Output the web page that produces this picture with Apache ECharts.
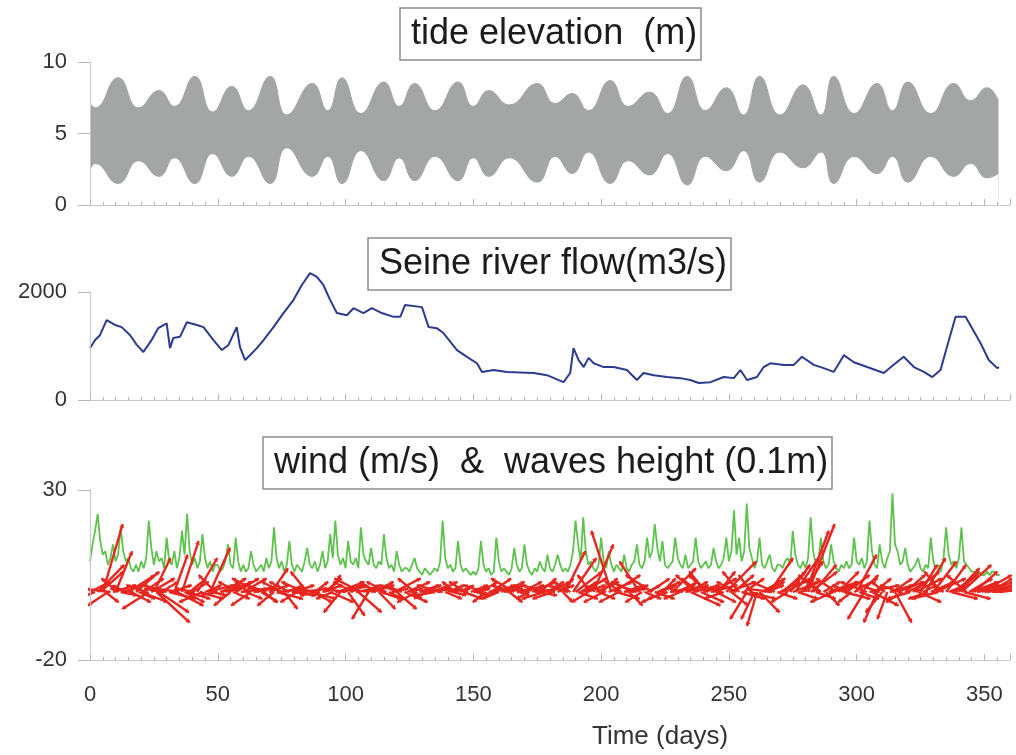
<!DOCTYPE html>
<html>
<head>
<meta charset="utf-8">
<script src="https://cdn.jsdelivr.net/npm/echarts@6/dist/echarts.min.js"></script>
<style>
  html, body { margin: 0; padding: 0; background: #fff; }
  #chart { width: 1016px; height: 755px; }
</style>
</head>
<body>
<div id="chart"></div>
<script>
// tide envelope: spring / neap extremes (m)
const tideDays = [0, 2, 11, 19, 27, 33, 41, 48, 55.5, 62, 70.5, 77, 87, 93, 98.6, 106, 115, 121, 127, 135, 144, 150, 156, 164,
  175, 182, 188.7, 195, 203.6, 210.6, 219, 226, 233.7, 240.8, 249, 255.7, 262, 270, 279, 286, 291, 299, 308, 314, 320, 329, 338, 344.6, 351, 355.5]
const tideHigh = [7.1, 6.8, 8.9, 6.8, 8.0, 6.9, 9.0, 6.5, 8.3, 6.6, 9.0, 6.3, 8.5, 6.6, 8.9, 6.4, 8.6, 6.9, 8.5, 6.6, 8.6, 6.9, 8.0, 7.0,
  8.5, 7.1, 7.8, 6.6, 8.7, 6.9, 7.9, 6.4, 9.0, 6.6, 8.2, 6.3, 9.0, 6.3, 8.4, 6.3, 9.0, 6.4, 8.5, 6.6, 8.6, 6.4, 8.5, 7.3, 8.2, 7.3]
const tideLow = [2.45, 2.9, 1.5, 3.1, 2.0, 3.3, 1.5, 3.6, 2.0, 3.4, 1.5, 4.0, 2.0, 3.4, 1.5, 3.8, 1.7, 3.3, 1.7, 3.4, 1.7, 3.3, 2.0, 3.3,
  1.6, 3.4, 2.2, 3.7, 1.5, 3.1, 2.1, 3.6, 1.4, 3.4, 2.4, 3.8, 1.6, 3.7, 2.6, 3.7, 1.5, 3.4, 2.2, 3.4, 1.6, 3.4, 2.0, 2.9, 1.9, 2.2]

// Seine river flow (m3/s)
const riverDays = [0, 2, 3.9, 6.5, 9.8, 12.4, 15.7, 18.3, 20.9, 24.1, 26.7, 30, 31.3, 32.6, 35.2, 37.9, 41.8, 44.4, 48.3, 51.6,
  54.2, 57.4, 58.7, 60.7, 62.6, 65.3, 67.9, 71.8, 75.7, 79.6, 82.9, 86.1, 88.8, 91.3, 94, 96.6, 100.5, 103.1, 107, 110.3,
  114.2, 118.8, 121.4, 123.3, 129.9, 132.5, 135.7, 138.3, 143.6, 147.5, 151.4, 153.4, 157.9, 163.1, 173.6, 178.8, 185.3, 187.9, 189.2, 191.2,
  193.2, 195.1, 197.1, 201, 204.9, 210.1, 214, 216.6, 220.6, 225.8, 231, 234.9, 238.2, 242.8, 248, 251.9, 254.5, 257.1, 261, 263.6,
  266.2, 271.5, 275.4, 278.6, 283.2, 287.1, 291, 295, 298.9, 304.1, 310.6, 315.2, 318.4, 322.4, 326.3, 329.6, 332.8, 336.1, 338.7, 342.6,
  348.5, 351.7, 355, 355.7]
const riverFlow = [960, 1110, 1200, 1480, 1390, 1350, 1200, 1020, 890, 1110, 1330, 1420, 960, 1150, 1170, 1440, 1390, 1350, 1110, 925,
  1020, 1350, 980, 740, 830, 960, 1110, 1350, 1610, 1850, 2130, 2350, 2280, 2130, 1850, 1610, 1570, 1700, 1610, 1700,
  1610, 1540, 1540, 1760, 1720, 1350, 1330, 1240, 925, 800, 680, 520, 555, 520, 500, 460, 330, 500, 960, 740,
  610, 780, 680, 610, 610, 555, 370, 500, 460, 425, 405, 370, 315, 330, 425, 405, 555, 370, 425, 610,
  680, 650, 650, 800, 650, 590, 520, 830, 700, 610, 500, 680, 800, 610, 520, 425, 555, 1110, 1540, 1540,
  1050, 740, 590, 610]

// waves height (0.1 m), one value per day from day 0
const waveHeight = [
  9, 14, 18, 23, 15, 11, 12, 8, 10, 14,
  9, 11, 19, 12, 9, 10, 7, 6, 8, 6,
  9, 7, 10, 21, 13, 8, 12, 9, 10, 7,
  16, 9, 8, 12, 7, 10, 18, 11, 23, 12,
  8, 10, 7, 9, 17, 10, 7, 9, 6, 8,
  8, 6, 7, 9, 14, 8, 7, 16, 9, 6,
  8, 6, 7, 12, 8, 6, 7, 8, 6, 10,
  7, 9, 19, 10, 7, 9, 6, 8, 15, 8,
  6, 8, 7, 6, 9, 13, 8, 7, 9, 6,
  8, 12, 7, 9, 17, 10, 21, 11, 8, 10,
  7, 15, 9, 8, 10, 7, 19, 11, 9, 8,
  13, 8, 7, 9, 8, 17, 10, 7, 8, 6,
  12, 8, 6, 7, 7, 6, 8, 10, 7, 6,
  5, 7, 6, 5, 6, 7, 6, 9, 21, 10,
  7, 8, 6, 7, 15, 8, 6, 7, 6, 5,
  6, 5, 7, 15, 8, 6, 7, 5, 6, 16,
  9, 6, 7, 6, 5, 7, 13, 8, 6, 7,
  14, 8, 6, 5, 7, 6, 9, 7, 6, 11,
  7, 6, 8, 11, 8, 6, 7, 6, 8, 12,
  21, 14, 9, 22, 12, 8, 9, 7, 6, 8,
  16, 9, 7, 12, 8, 6, 8, 7, 6, 11,
  7, 6, 8, 9, 14, 8, 7, 9, 16, 10,
  12, 20, 13, 9, 15, 8, 7, 8, 9, 16,
  10, 8, 7, 11, 7, 8, 9, 16, 9, 7,
  8, 9, 7, 8, 13, 9, 7, 8, 10, 16,
  9, 12, 24, 11, 16, 9, 12, 26, 13, 10,
  7, 9, 16, 8, 7, 9, 11, 7, 6, 8,
  8, 7, 9, 10, 8, 18, 11, 8, 7, 9,
  7, 10, 22, 12, 8, 9, 16, 9, 7, 8,
  14, 9, 7, 6, 8, 7, 9, 7, 8, 16,
  9, 8, 10, 7, 9, 21, 12, 8, 7, 14,
  9, 7, 10, 12, 29, 14, 12, 8, 9, 13,
  8, 6, 7, 8, 10, 7, 6, 8, 7, 16,
  9, 7, 8, 6, 10, 19, 11, 8, 9, 7,
  10, 19, 9, 8, 7, 6, 6, 5, 6, 5,
  5, 6, 5, 6, 6, 5, 5
]

// wind vectors (m/s), one per day from day 0
const windStep = 1
const windU = [
  6, -7, -5, 8, 7, 6, 4, -6, -8, 7,
  5, -5, 5, 6, -4, 8, 6, -7, 7, 5,
  8, 6, -6, -8, 7, 5, 10, 9, 5, -6,
  -7, 8, 6, 4, 8, -7, 5, 6, 7, 5,
  5, -6, 6, 7, -7, 5, 8, 6, 4, -5,
  -5, 6, 7, 8, 6, -5, 5, 7, -6, 8,
  7, 5, -4, -6, 6, 7, -8, 5, 4, -6,
  6, 5, -5, 8, 7, -6, 4, 5, -6, 7,
  6, -5, 5, 8, -7, -5, 8, 6, 4, -7,
  -6, 6, 5, 4, 7, -5, 5, 8, -5, 6,
  -7, 5, 5, -6, 6, 7, -8, 5, 4, -5,
  7, 6, -5, 5, 6, -7, -6, 4, 5, 8,
  6, -6, -5, 7, 7, 4, 3, -5, -6, 6,
  8, 5, -4, 6, 5, -6, 6, -7, -5, 5,
  5, 6, 4, -4, -5, 4, 6, -5, -4, 5,
  5, 4, 3, 5, -6, -4, 5, 6, 7, -5,
  -5, 7, 6, 5, 4, -6, -7, 5, 3, 6,
  6, -5, -4, 7, 8, 6, 5, -6, -7, 5,
  6, -6, -7, 5, 4, 3, 6, -6, -5, 7,
  8, 6, 5, 7, 6, -5, -4, 6, 7, 5,
  5, -6, -7, 7, -6, 8, 7, -6, -5, 6,
  6, 4, 5, -7, -6, -6, -5, 5, 4, 6,
  -8, 6, 7, 5, 4, -7, -6, 8, 7, 6,
  6, -5, -4, 7, 6, 9, 8, -6, -5, 7,
  7, -5, -6, 8, 7, 6, 5, -7, -6, 9,
  8, 5, 6, -6, -5, 7, 6, -5, 8, -4,
  -4, -3, 6, 7, 6, 5, 7, -8, -7, 6,
  6, 7, 8, -5, 6, 8, 7, 6, 5, 6,
  7, 8, 8, 7, 6, -6, -5, 5, 4, 9,
  8, -7, -6, 6, 5, 8, 7, -5, -4, 7,
  6, 6, 5, -5, -8, 9, 8, 5, -4, -6,
  -5, -4, -3, 7, 6, 5, 8, -6, -5, 6,
  6, -7, 8, 8, 7, 5, 4, 6, -6, 7,
  7, 9, -8, -5, -4, 6, 5, 8, 7, 7,
  6, 9, 8, -6, 7, 8, 7, 7, 6, 9,
  9, 8, 7, 10, 9, 9, 8
]
const windV = [
  3, 5, -2, 8, 6, 20, -3, -4, 1, 2,
  12, 4, -1, 2, 2, 5, -3, 1, 6, -2,
  -3, 4, 2, -5, 4, 10, -9, -6, 3, 1,
  2, -2, 2, 11, -4, 1, 15, -3, -2, 4,
  3, 1, 10, -2, -3, 2, 2, 13, -1, 5,
  -1, 2, 4, 3, 2, -4, -2, 4, 3, 1,
  4, -2, 3, -4, 1, 2, 4, -3, -3, 2,
  2, 7, -4, -2, 1, 3, -5, 2, 3, -1,
  2, -3, -1, 1, 3, 6, -2, -3, 3, 1,
  -1, 2, 4, 5, -3, -2, 1, 3, -6, 2,
  1, -7, 2, 3, 1, -6, 4, 2, 1, -8,
  2, 3, 3, -5, -2, 2, 3, -2, 1, 4,
  -5, 2, 2, -3, 3, 1, -2, 4, -3, 2,
  1, 2, -2, 1, 2, -1, 3, 2, 1, -2,
  2, 1, -1, 3, 1, 2, -2, 3, 1, 2,
  1, -1, 2, 3, 2, -3, 1, 4, 2, -1,
  -2, 3, 2, 1, -3, 2, 4, 1, -1, 3,
  2, 2, -2, 3, 1, -1, 4, 2, -2, 3,
  3, -2, 1, 2, 4, -3, 12, 2, 3, 10,
  6, -2, 3, 4, 2, -3, 5, 14, 3, -2,
  4, -3, 2, 3, 18, 5, -2, -3, 3, 2,
  1, -4, 2, 3, 2, 9, -3, -2, 2, 4,
  5, -2, 3, 2, 4, -3, -2, 1, 7, 2,
  3, -2, 1, 2, 3, -4, 2, 5, 4, -3,
  2, 6, 5, 2, 4, -3, 6, 2, -2, 9,
  3, -4, 5, 3, 6, -2, 4, -8, -2, 5,
  -8, -10, -6, 4, 3, 2, 10, 1, 3, -2,
  3, 6, 4, -3, 8, 3, 10, -2, 3, 9,
  18, 20, 6, 8, -2, 5, 4, 3, -4, 3,
  2, -3, 4, 6, 3, -2, 5, 2, -3, 4,
  11, -2, 5, -8, 3, 2, -4, 4, -9, 2,
  -6, 3, -8, 2, 4, -9, 3, 2, -3, 5,
  3, -2, 6, 4, -3, 8, 2, 10, -2, 3,
  9, 4, -2, 6, 3, 8, 2, -2, 5, 7,
  6, 8, -2, 5, 4, 3, 6, 2, 3, 5,
  3, 2, 4, 1, 3, 2, 1
]
// arrow length along time axis per m/s
const arrowDaysPerMs = 1.3

const xTicks = [0, 50, 100, 150, 200, 250, 300, 350]

const chart = echarts.init(document.getElementById('chart'))

const gridLine = '#c8c8c8'
const tickColor = '#b5b5b5'
const labelFont = 'Liberation Sans, Arial, Helvetica, sans-serif'

const makeX = (gridIndex, showLabel) => ({
  type: 'value',
  gridIndex: gridIndex,
  z: 10,
  min: 0,
  max: 360,
  interval: 50,
  axisLine: { show: true, onZero: false, lineStyle: { color: gridLine, width: 1 } },
  axisTick: { show: true, inside: true, length: 6, lineStyle: { color: tickColor } },
  minorTick: { show: true, splitNumber: 10, length: 3, lineStyle: { color: tickColor } },
  splitLine: { show: false },
  axisLabel: {
    show: showLabel,
    showMaxLabel: false,
    margin: 24,
    fontSize: 22,
    color: '#333',
    fontFamily: labelFont,
    formatter: v => (xTicks.includes(v) ? String(v) : '')
  }
})

const makeY = (gridIndex, min, max, interval) => ({
  type: 'value',
  gridIndex: gridIndex,
  z: 10,
  min: min,
  max: max,
  interval: interval,
  axisLine: { show: true, lineStyle: { color: gridLine, width: 1 } },
  axisTick: { show: true, length: 12, lineStyle: { color: tickColor } },
  splitLine: { show: false },
  axisLabel: { margin: 23, fontSize: 22, color: '#333', fontFamily: labelFont, formatter: v => String(v) }
})

const boxTitle = (text, left, top) => ({
  text: text,
  left: left,
  top: top,
  borderColor: '#8c8c8c',
  borderWidth: 1.5,
  backgroundColor: '#fff',
  padding: [6, 4, 6, 11],
  textStyle: { fontSize: 36, fontWeight: 'normal', color: '#1c1c1c', fontFamily: labelFont, lineHeight: 40 }
})

const windArrows = windU.map((u, i) => ({
  coords: [[i * windStep, 0], [i * windStep + u * arrowDaysPerMs, windV[i]]]
}))

const option = {
  backgroundColor: '#fff',
  animation: false,
  title: [
    boxTitle('tide elevation  (m)', 400, 8),
    boxTitle('Seine river flow(m3/s)', 368, 238),
    boxTitle('wind (m/s)  &  waves height (0.1m)', 263, 437)
  ],
  grid: [
    { left: 90, top: 62, width: 920, height: 143 },
    { left: 90, top: 292, width: 920, height: 108 },
    { left: 90, top: 490, width: 920, height: 170 }
  ],
  xAxis: [makeX(0, false), makeX(1, false), makeX(2, true)],
  yAxis: [makeY(0, 0, 10, 5), makeY(1, 0, 2000, 2000), makeY(2, -20, 30, 50)],
  graphic: [{
    type: 'text',
    left: 592,
    top: 724,
    style: { text: 'Time (days)', fill: '#333', font: '26px "Liberation Sans", Arial, sans-serif' }
  }],
  series: [
    {
      // upper envelope filled down to 0
      name: 'tideHigh',
      type: 'line',
      xAxisIndex: 0, yAxisIndex: 0,
      smooth: 0.5,
      symbol: 'none',
      lineStyle: { color: '#a4a6a5', width: 1 },
      areaStyle: { color: '#a4a6a5', opacity: 1, origin: 'start' },
      data: tideDays.map((d, i) => [d, tideHigh[i]]),
      z: 2
    },
    {
      // lower envelope: blank out below it
      name: 'tideLow',
      type: 'line',
      xAxisIndex: 0, yAxisIndex: 0,
      smooth: 0.5,
      symbol: 'none',
      lineStyle: { color: '#a4a6a5', width: 1 },
      areaStyle: { color: '#fff', opacity: 1, origin: 'start' },
      data: tideDays.map((d, i) => [d, tideLow[i]]),
      z: 3
    },
    {
      name: 'river',
      type: 'line',
      xAxisIndex: 1, yAxisIndex: 1,
      clip: false,
      symbol: 'none',
      lineStyle: { color: '#2c3a8f', width: 2 },
      data: riverDays.map((d, i) => [d, riverFlow[i]])
    },
    {
      name: 'waves',
      type: 'line',
      xAxisIndex: 2, yAxisIndex: 2,
      clip: false,
      symbol: 'none',
      lineStyle: { color: '#5fc24e', width: 1.8 },
      data: waveHeight.map((h, i) => [i, h])
    },
    {
      name: 'wind',
      type: 'lines',
      coordinateSystem: 'cartesian2d',
      xAxisIndex: 2, yAxisIndex: 2,
      symbol: ['none', 'arrow'],
      symbolSize: 4,
      silent: true,
      lineStyle: { color: '#e6261f', width: 2.4, opacity: 1, curveness: 0 },
      data: windArrows,
      z: 4
    }
  ]
}

chart.setOption(option)
window.addEventListener('resize', () => chart.resize())
</script>
</body>
</html>
